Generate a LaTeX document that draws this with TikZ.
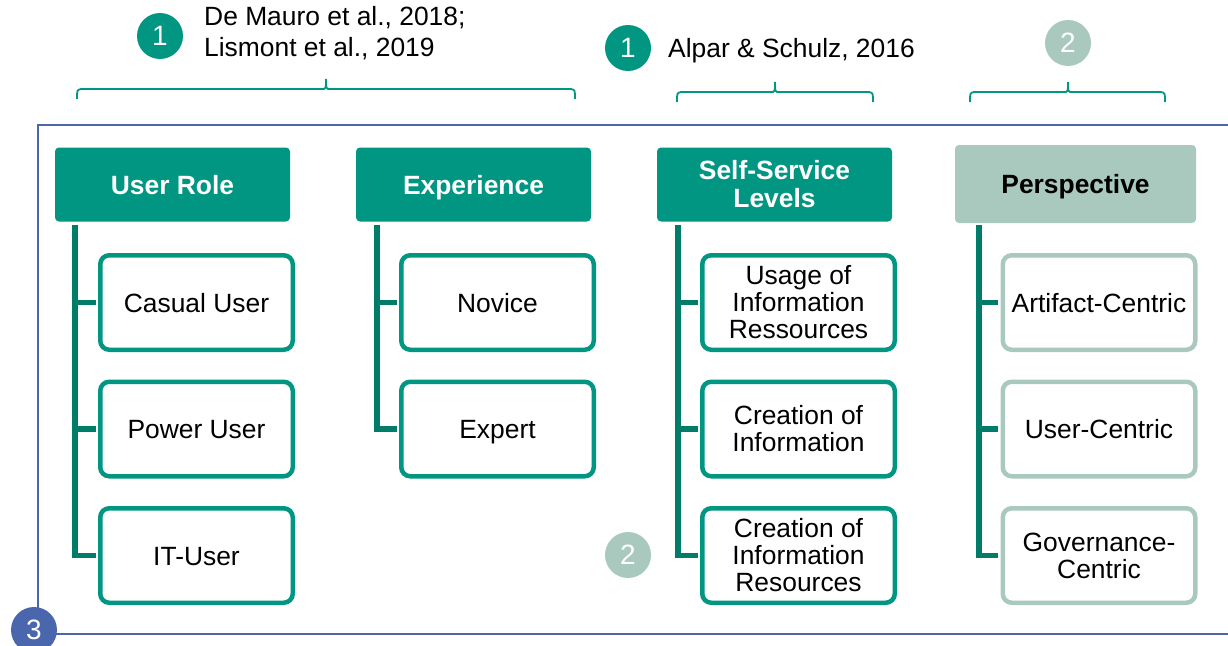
\documentclass[tikz,border=0pt]{standalone}
\usepackage{fontspec}
\setmainfont{Liberation Sans}
\definecolor{boxgreen}{RGB}{0,150,130}
\definecolor{stemgreen}{RGB}{0,124,104}
\definecolor{palegreen}{RGB}{169,201,191}
\definecolor{frameblue}{RGB}{74,102,172}
\begin{document}
\begin{tikzpicture}[x=1pt,y=-1pt,
  head/.style={rectangle, rounded corners=4pt, fill=boxgreen, text=white,
    font=\bfseries\fontsize{26.4}{28}\selectfont, minimum width=235pt,
    minimum height=74pt, inner sep=0pt, align=center},
  oneline/.style={text height=19pt, text depth=0pt},
  palehead/.style={head, fill=palegreen, text=black, minimum width=241pt, minimum height=78pt},
  item/.style={rectangle, rounded corners=9pt, draw=boxgreen, line width=4.5pt,
    fill=white, minimum width=192.5pt, minimum height=94.5pt, inner sep=0pt,
    align=center, font=\fontsize{26.4}{27}\selectfont},
  paleitem/.style={item, draw=palegreen},
  stem/.style={draw=stemgreen, line width=5.5pt, shorten >=2.25pt},
  brace/.style={draw=boxgreen, line width=1.8pt},
  badge/.style={circle, minimum size=46pt, inner sep=0pt, fill=boxgreen, text=white,
    font=\fontsize{28}{28}\selectfont},
  palebadge/.style={badge, fill=palegreen},
  cite/.style={anchor=west, inner sep=0pt, align=left, font=\fontsize{26.4}{31}\selectfont},
  frame/.style={draw=frameblue, line width=2.7pt}
]
\useasboundingbox (0,0) rectangle (1228,645);

% open frame around the four dimensions
\draw[frame] (1228,125) -- (38,125) -- (38,634) -- (1228,634);
\node[badge, fill=frameblue, minimum size=46pt] (b3) at (34,630) {3};

% references above the columns
\node[badge] (b1a) at (160,36) {1};
\node[cite] (c1) at (204,33) {De Mauro et al., 2018;\\Lismont et al., 2019};
\node[badge] (b1b) at (628,48) {1};
\node[cite] (c2) at (668,51) {Alpar \& Schulz, 2016};
\node[palebadge] (b2a) at (1068,43) {2};
\node[palebadge] (b2b) at (628,555) {2};

% braces
\draw[brace] (77,99) .. controls (77,90) .. (81,89) -- (322,89)
  .. controls (326,89) .. (326,79) .. controls (326,89) .. (330,89)
  -- (571,89) .. controls (575,90) .. (575,99);
\draw[brace] (677,102) .. controls (677,93) .. (681,92) -- (771,92)
  .. controls (775,92) .. (775,82) .. controls (775,92) .. (779,92)
  -- (869,92) .. controls (873,93) .. (873,102);
\draw[brace] (970,102) .. controls (970,93) .. (974,92) -- (1064,92)
  .. controls (1068,92) .. (1068,82) .. controls (1068,92) .. (1072,92)
  -- (1161,92) .. controls (1165,93) .. (1165,102);

% headers
\node[head, oneline] (ur) at (172.5,184.5) {User Role};
\node[head, oneline] (ex) at (473.5,184.5) {Experience};
\node[head] (ss) at (774.5,184.5) {Self-Service\\Levels};
\node[palehead, oneline] (pe) at (1075.5,184) {Perspective};

% items
\node[item, oneline] (cu) at (196.5,302.5) {Casual User};
\node[item, oneline] (pu) at (196.5,429) {Power User};
\node[item, oneline] (it) at (196.5,555.5) {IT-User};
\node[item, oneline] (no) at (497.5,302.5) {Novice};
\node[item, oneline] (xp) at (497.5,429) {Expert};
\node[item] (us) at (798.5,302.5) {Usage of\\Information\\Ressources};
\node[item] (ci) at (798.5,429) {Creation of\\Information};
\node[item] (cr) at (798.5,555.5) {Creation of\\Information\\Resources};
\node[paleitem, oneline] (ac) at (1099,302.5) {Artifact-Centric};
\node[paleitem, oneline] (uc) at (1099,429) {User-Centric};
\node[paleitem] (gc) at (1099,555.5) {Governance-\\Centric};

% trunks and branches
\coordinate (t1) at (75,224.5);
\coordinate (t2) at (377,224.5);
\coordinate (t3) at (678,224.5);
\coordinate (t4) at (979,225);
\draw[stem] (t1) |- (it.west);
\draw[stem] (t1 |- cu.west) -- (cu.west);
\draw[stem] (t1 |- pu.west) -- (pu.west);
\draw[stem] (t2) |- (xp.west);
\draw[stem] (t2 |- no.west) -- (no.west);
\draw[stem] (t3) |- (cr.west);
\draw[stem] (t3 |- us.west) -- (us.west);
\draw[stem] (t3 |- ci.west) -- (ci.west);
\draw[stem] (t4) |- (gc.west);
\draw[stem] (t4 |- ac.west) -- (ac.west);
\draw[stem] (t4 |- uc.west) -- (uc.west);
\end{tikzpicture}
\end{document}
